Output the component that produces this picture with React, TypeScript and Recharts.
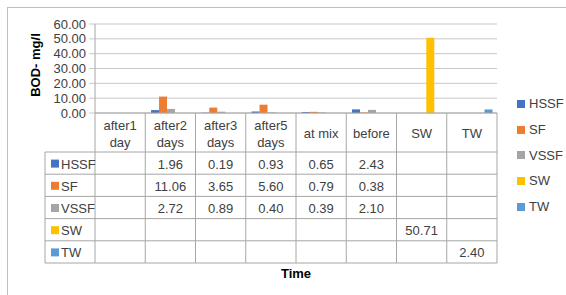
import { BarChart, Bar, XAxis, YAxis, CartesianGrid } from "recharts";

const CATEGORIES = ["after1 day", "after2 days", "after3 days", "after5 days", "at mix", "before", "SW", "TW"];
const HSSF = [null, 1.96, 0.19, 0.93, 0.65, 2.43, null, null];
const SF = [null, 11.06, 3.65, 5.6, 0.79, 0.38, null, null];
const VSSF = [null, 2.72, 0.89, 0.4, 0.39, 2.1, null, null];
const SW = [null, null, null, null, null, null, 50.71, null];
const TW = [null, null, null, null, null, null, null, 2.4];
const Y_TICKS = [0, 10, 20, 30, 40, 50, 60];

const SERIES = [
  { name: "HSSF", color: "#4472C4", values: HSSF },
  { name: "SF", color: "#ED7D31", values: SF },
  { name: "VSSF", color: "#A5A5A5", values: VSSF },
  { name: "SW", color: "#FFC000", values: SW },
  { name: "TW", color: "#5B9BD5", values: TW },
];

const data = CATEGORIES.map((name, i) => {
  const row: Record<string, string | number | null> = { name };
  SERIES.forEach((s) => (row[s.name] = s.values[i]));
  return row;
});

const W = 566;
const H = 295;
const MARGIN = { top: 24, right: 69, left: 45, bottom: 32 };
const BAND = (W - MARGIN.left - 50 - MARGIN.right) / CATEGORIES.length;
const FONT = "'Liberation Sans', Arial, sans-serif";
const FS = 13;
const TEXT = "#404040";
const LINE = "#a6a6a6";
const HEADER_H = 39;
const ROW_H = 22.2;

const TableTick = (props: any) => {
  const { x, y, index } = props;
  const label: string = CATEGORIES[index];
  const left = x - BAND / 2;
  const right = x + BAND / 2;
  const bottom = y + HEADER_H + ROW_H * SERIES.length;
  const lines = label.length > 6 ? label.split(" ") : [label];
  return (
    <g fontFamily={FONT} fontSize={FS} fill={TEXT}>
      {index === 0 && <line x1={left} x2={left} y1={y} y2={bottom} stroke={LINE} />}
      <line x1={right} x2={right} y1={y} y2={bottom} stroke={LINE} />
      {lines.map((t, k) => (
        <text key={k} x={x} y={lines.length > 1 ? y + 12 + k * 17 : y + 20} textAnchor="middle" dominantBaseline="central">
          {t}
        </text>
      ))}
      {SERIES.map((s, r) => {
        const top = y + HEADER_H + r * ROW_H;
        const v = s.values[index];
        return (
          <g key={s.name}>
            <line x1={left} x2={right} y1={top} y2={top} stroke={LINE} />
            {v != null && (
              <text x={x} y={top + ROW_H / 2 + 1} textAnchor="middle" dominantBaseline="central">
                {v.toFixed(2)}
              </text>
            )}
            {index === 0 && (
              <g>
                <line x1={left - 50} x2={left} y1={top} y2={top} stroke={LINE} />
                <rect x={left - 44} y={top + ROW_H / 2 - 3.5} width={8} height={8} fill={s.color} />
                <text x={left - 34} y={top + ROW_H / 2 + 1} textAnchor="start" dominantBaseline="central">
                  {s.name}
                </text>
              </g>
            )}
          </g>
        );
      })}
      <line x1={left} x2={right} y1={bottom} y2={bottom} stroke={LINE} />
      {index === 0 && (
        <g>
          <line x1={left - 50} x2={left - 50} y1={y + HEADER_H} y2={bottom} stroke={LINE} />
          <line x1={left - 50} x2={left} y1={bottom} y2={bottom} stroke={LINE} />
        </g>
      )}
    </g>
  );
};

const LegendBox = () => (
  <div style={{ position: "absolute", left: 517, top: 91, fontFamily: FONT, fontSize: FS, color: TEXT }}>
    {SERIES.map((s) => (
      <div key={s.name} style={{ display: "flex", alignItems: "center", height: 25.7 }}>
        <span style={{ width: 8, height: 8, background: s.color, marginRight: 4 }} />
        {s.name}
      </div>
    ))}
  </div>
);

export default function App() {
  return (
    <div style={{ position: "absolute", left: 0, top: 0, width: W, height: H, background: "#fff" }}>
      <div style={{ position: "absolute", left: 7, top: 7, width: W - 7, height: H - 7, borderLeft: "1px solid #bfbfbf", borderTop: "1.5px solid #bfbfbf" }} />
      <BarChart width={W} height={H} data={data} margin={MARGIN} barCategoryGap="11.5%" barGap={0}>
        <CartesianGrid vertical={false} stroke="#c8c8c8" />
        <XAxis
          dataKey="name"
          height={150}
          interval={0}
          tickSize={0}
          tickMargin={0}
          tickLine={false}
          axisLine={{ stroke: LINE }}
          tick={(p: any) => <TableTick {...p} />}
        />
        <YAxis
          width={50}
          domain={[0, 60]}
          ticks={Y_TICKS}
          interval={0}
          tickFormatter={(v: number) => v.toFixed(2)}
          tick={{ fontFamily: FONT, fontSize: FS, fill: TEXT }}
          tickLine={{ stroke: "#c8c8c8" }}
          tickSize={6}
          tickMargin={3}
          axisLine={{ stroke: LINE }}
        />
        {SERIES.map((s) => (
          <Bar key={s.name} dataKey={s.name} fill={s.color} isAnimationActive={false} />
        ))}
      </BarChart>
      <LegendBox />
      <div
        style={{
          position: "absolute",
          left: 35,
          top: 65,
          transform: "translate(-50%, -50%) rotate(-90deg)",
          whiteSpace: "nowrap",
          fontFamily: FONT,
          fontSize: FS,
          fontWeight: "bold",
          color: "#000",
        }}
      >
        BOD- mg/l
      </div>
      <div style={{ position: "absolute", left: 95, width: 402, top: 266, textAlign: "center", fontFamily: FONT, fontSize: FS, fontWeight: "bold", color: "#000" }}>
        Time
      </div>
    </div>
  );
}
